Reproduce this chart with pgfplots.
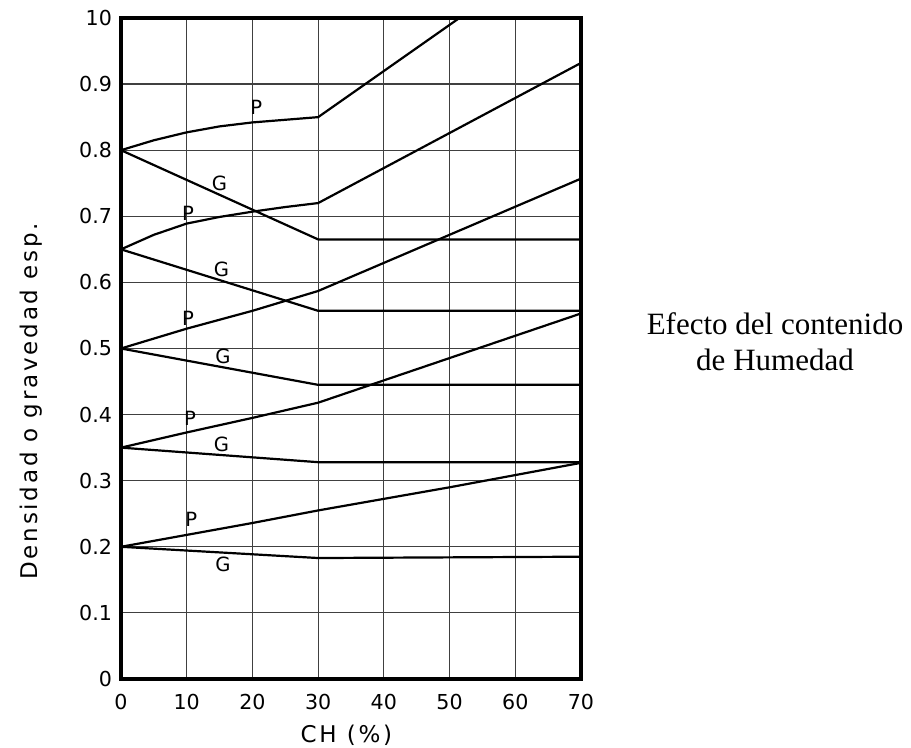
\documentclass[border=0pt]{standalone}
\usepackage{fontspec}
\setmainfont{Liberation Serif}
\newfontfamily\chartfont{DejaVu Sans}
\newfontfamily\chartwide{DejaVu Sans}[LetterSpace=12]
\usepackage{pgfplots}
\pgfplotsset{compat=1.18}
\begin{document}
\begin{tikzpicture}
\useasboundingbox[fill=white] (-60.5pt,-34.5pt) rectangle (395pt,339.5pt);
\begin{axis}[
  scale only axis, width=230pt, height=330.5pt,
  anchor=south west, at={(0pt,0pt)},
  xmin=0, xmax=70, ymin=0, ymax=1,
  xtick={0,10,20,30,40,50,60,70},
  ytick={0,0.1,0.2,0.3,0.4,0.5,0.6,0.7,0.8,0.9,1},
  yticklabels={0,0.1,0.2,0.3,0.4,0.5,0.6,0.7,0.8,0.9,10},
  /pgf/number format/assume math mode=true,
  ticklabel style={font=\chartfont\fontsize{10.3}{12}\selectfont},
  major tick length=0pt,
  grid=major,
  major grid style={line width=0.6pt, color=black!75},
  axis line style={line width=1.6pt},
  xlabel={CH (\%)},
  ylabel={Densidad o gravedad esp.},
  label style={font=\chartwide\fontsize{11.5}{13}\selectfont},
  xlabel style={at={(axis description cs:0.49,-0.085)}, anchor=center},
  ylabel style={at={(axis description cs:-0.195,0.42)}, anchor=center},
  xticklabel style={yshift=-4pt},
  yticklabel style={xshift=-1pt},
  cycle list={{black,solid,mark=none}},
  every axis plot/.append style={line width=1.1pt},
  clip=true,
]
\addplot coordinates {(0,0.8) (5,0.815) (10,0.827) (15,0.836) (20,0.842) (25,0.846) (30,0.85) (51.5,1.0)};
\addplot coordinates {(0,0.8) (30,0.665) (70,0.665)};
\addplot coordinates {(0,0.65) (5,0.672) (10,0.689) (15,0.699) (20,0.707) (25,0.714) (30,0.72) (70,0.932)};
\addplot coordinates {(0,0.65) (30,0.557) (70,0.557)};
\addplot coordinates {(0,0.5) (10,0.53) (20,0.557) (30,0.587) (70,0.757)};
\addplot coordinates {(0,0.5) (30,0.445) (70,0.445)};
\addplot coordinates {(0,0.35) (10,0.373) (20,0.395) (30,0.418) (70,0.553)};
\addplot coordinates {(0,0.35) (30,0.328) (70,0.328)};
\addplot coordinates {(0,0.2) (10,0.218) (20,0.236) (30,0.255) (50,0.29) (70,0.327)};
\addplot coordinates {(0,0.2) (30,0.183) (70,0.185)};
\begin{scope}[every node/.style={font=\chartfont\fontsize{9.8}{11}\selectfont, inner sep=0.5pt}]
\node at (axis cs:20.6,0.865) {P};
\node at (axis cs:15,0.75) {G};
\node at (axis cs:10.2,0.704) {P};
\node at (axis cs:15.3,0.62) {G};
\node at (axis cs:10.2,0.545) {P};
\node at (axis cs:15.5,0.488) {G};
\node at (axis cs:10.5,0.394) {P};
\node at (axis cs:15.3,0.355) {G};
\node at (axis cs:10.7,0.241) {P};
\node at (axis cs:15.5,0.173) {G};
\end{scope}
\end{axis}
\node[align=center, font=\fontsize{15.5}{18}\selectfont] at (327pt,168.5pt) {Efecto del contenido\\de Humedad};
\end{tikzpicture}
\end{document}
